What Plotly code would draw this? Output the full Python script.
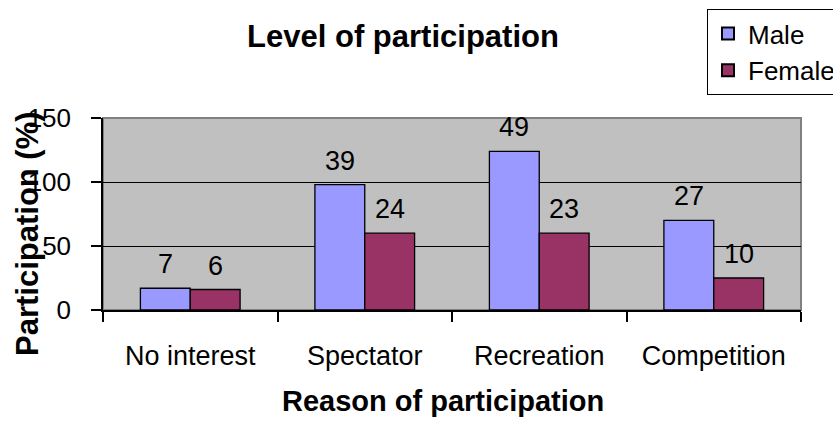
import plotly.graph_objects as go

categories = ["No interest", "Spectator", "Recreation", "Competition"]
male_values = [17, 98, 124, 70]
female_values = [16, 60, 60, 25]
male_labels = ["7", "39", "49", "27"]
female_labels = ["6", "24", "23", "10"]
y_ticks = [0, 50, 100, 150]

FONT = "Liberation Sans, Arial, sans-serif"

fig = go.Figure()
fig.add_trace(go.Bar(
    name="Male", x=categories, y=male_values,
    marker=dict(color="#9999FF", line=dict(color="black", width=1.3)),
))
fig.add_trace(go.Bar(
    name="Female", x=categories, y=female_values,
    marker=dict(color="#993366", line=dict(color="black", width=1.3)),
))

fig.update_layout(
    width=833, height=423, autosize=False,
    margin=dict(l=103, r=32, t=118, b=113, pad=0, autoexpand=False),
    paper_bgcolor="white", plot_bgcolor="#C0C0C0",
    barmode="group", bargap=0.4286, bargroupgap=0,
    font=dict(family=FONT, size=26, color="black"),
    title=dict(text="Level of participation", x=403/833, xref="container", xanchor="center",
               y=1 - 36/423, yref="container", yanchor="middle",
               font=dict(family=FONT, size=31, color="black", weight="bold")),
    showlegend=True,
    legend=dict(x=(707 - 103) / 698, y=(310 - 9) / 192, xanchor="left", yanchor="top",
                bgcolor="white", bordercolor="black", borderwidth=1,
                font=dict(family=FONT, size=26, color="black"),
                tracegroupgap=0, itemsizing="constant"),
)

fig.update_xaxes(
    showline=True, linecolor="black", linewidth=1.5,
    ticks="outside", ticklen=10, tickcolor="black", tickwidth=1.5,
    tickson="boundaries", showgrid=False,
    tickfont=dict(family=FONT, size=27, color="black"),
    ticklabelstandoff=21,
)
fig.update_yaxes(
    range=[0, 150], tickvals=y_ticks, showline=True, linecolor="black", linewidth=1.5,
    ticks="outside", ticklen=10, tickcolor="black", tickwidth=1.5,
    showgrid=True, gridcolor="black", gridwidth=1.3, zeroline=False,
    tickfont=dict(family=FONT, size=26, color="black"),
    ticklabelstandoff=15,
)

# plot-area frame (grey top/right edge)
fig.add_shape(type="rect", xref="paper", yref="paper", x0=0, x1=1, y0=0, y1=1,
              line=dict(color="#808080", width=2), layer="below")

# data labels above each bar
for cat, mv, ml, fv, fl in zip(categories, male_values, male_labels, female_values, female_labels):
    for val, lab, dx in ((mv, ml, -25), (fv, fl, 25)):
        fig.add_annotation(x=cat, y=val, text=lab, xref="x", yref="y",
                           xshift=dx, yshift=24, xanchor="center", yanchor="middle",
                           showarrow=False,
                           font=dict(family=FONT, size=27, color="black"))

fig.add_annotation(text="Participation (%)", xref="paper", yref="paper",
                   x=-(103 - 27) / 698, y=(310 - 234) / 192,
                   xanchor="center", yanchor="middle", textangle=-90, showarrow=False,
                   font=dict(family=FONT, size=31, color="black", weight="bold"))
fig.add_annotation(text="Reason of participation", xref="paper", yref="paper",
                   x=(443 - 103) / 698, y=-(401 - 310) / 192,
                   xanchor="center", yanchor="middle", showarrow=False,
                   font=dict(family=FONT, size=29, color="black", weight="bold"))

fig.write_html("out.html")
